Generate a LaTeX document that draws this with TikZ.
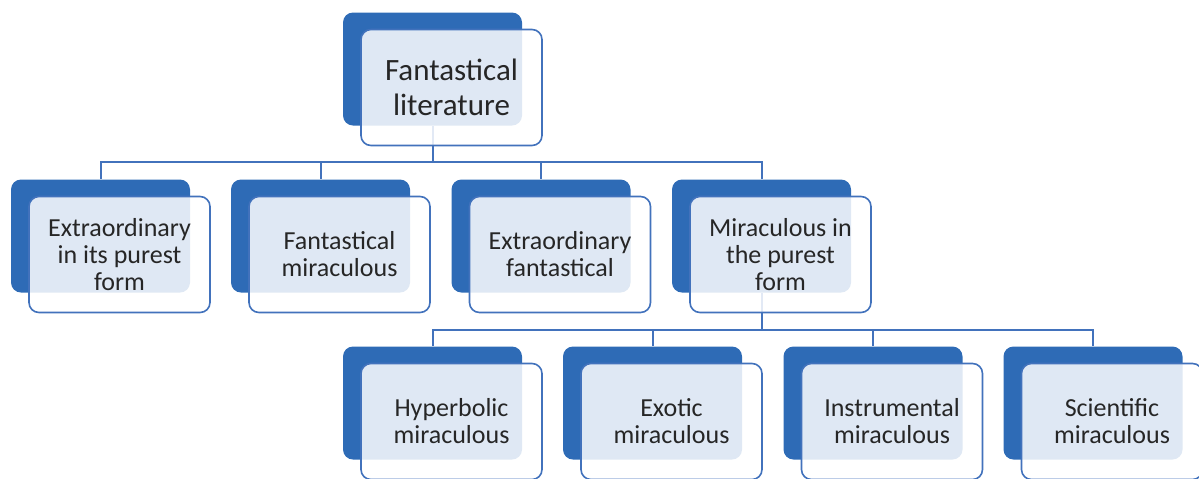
\documentclass[tikz,border=0pt]{standalone}
\usepackage{fontspec}
\setmainfont{Carlito}
\usepackage{tikz}

\definecolor{darkblue}{RGB}{46,107,182}
\definecolor{lineblue}{RGB}{66,114,188}
\definecolor{txtgray}{RGB}{38,38,38}

\begin{document}
\begin{tikzpicture}[x=0.5pt,y=-0.5pt,
    backbox/.style={fill=darkblue,rounded corners=5pt,inner sep=0pt,
        minimum width=89.5pt,minimum height=56.5pt},
    frontbox/.style={draw=lineblue,line width=0.8pt,fill=white,
        fill opacity=0.85,text opacity=1,rounded corners=5pt,inner sep=0pt,
        minimum width=90.5pt,minimum height=58pt,align=center,text=txtgray,
        font=\fontsize{13}{13.5}\selectfont},
    link/.style={draw=lineblue,line width=1pt}]

        \useasboundingbox (0,0) rectangle (1199,478);
        \clip (0,0) rectangle (1199,478);

        % Back boxes
        \node[backbox] (lit) at (432.5,69) {};
        \foreach \n/\x in {ext/100.5,fanmir/320.5,extfan/541,mirpur/761.5} {
            \node[backbox] (\n) at (\x,236) {};
        }
        \foreach \n/\x in {hyp/432.5,exo/652.5,ins/873,sci/1093} {
            \node[backbox] (\n) at (\x,403) {};
        }

        % Links
        \foreach \n in {ext,fanmir,extfan,mirpur} {
            \draw[link] (lit.south) -- ++(0,36.5) -| (\n.north);
        }
        \foreach \n in {hyp,exo,ins,sci} {
            \draw[link] (mirpur.south) -- ++(0,37) -| (\n.north);
        }

        % Front boxes with text
        \node[frontbox,font=\fontsize{15.5}{17.5}\selectfont] (litf)
            at ([shift={(19,18.5)}]lit.center) {Fantastical\\literature};

        \node[frontbox] (extf) at ([shift={(19,18.5)}]ext.center)
            {Extraordinary\\in its purest\\form};
        \node[frontbox] (fanmirf) at ([shift={(19,18.5)}]fanmir.center)
            {Fantastical\\miraculous};
        \node[frontbox] (extfanf) at ([shift={(19,18.5)}]extfan.center)
            {Extraordinary\\fantastical};
        \node[frontbox] (mirpurf) at ([shift={(19,18.5)}]mirpur.center)
            {Miraculous in\\the purest\\form};

        \node[frontbox] (hypf) at ([shift={(19,18.5)}]hyp.center)
            {Hyperbolic\\miraculous};
        \node[frontbox] (exof) at ([shift={(19,18.5)}]exo.center)
            {Exotic\\miraculous};
        \node[frontbox] (insf) at ([shift={(19,18.5)}]ins.center)
            {Instrumental\\miraculous};
        \node[frontbox] (scif) at ([shift={(19,18.5)}]sci.center)
            {Scientific\\miraculous};

    \end{tikzpicture}
\end{document}
